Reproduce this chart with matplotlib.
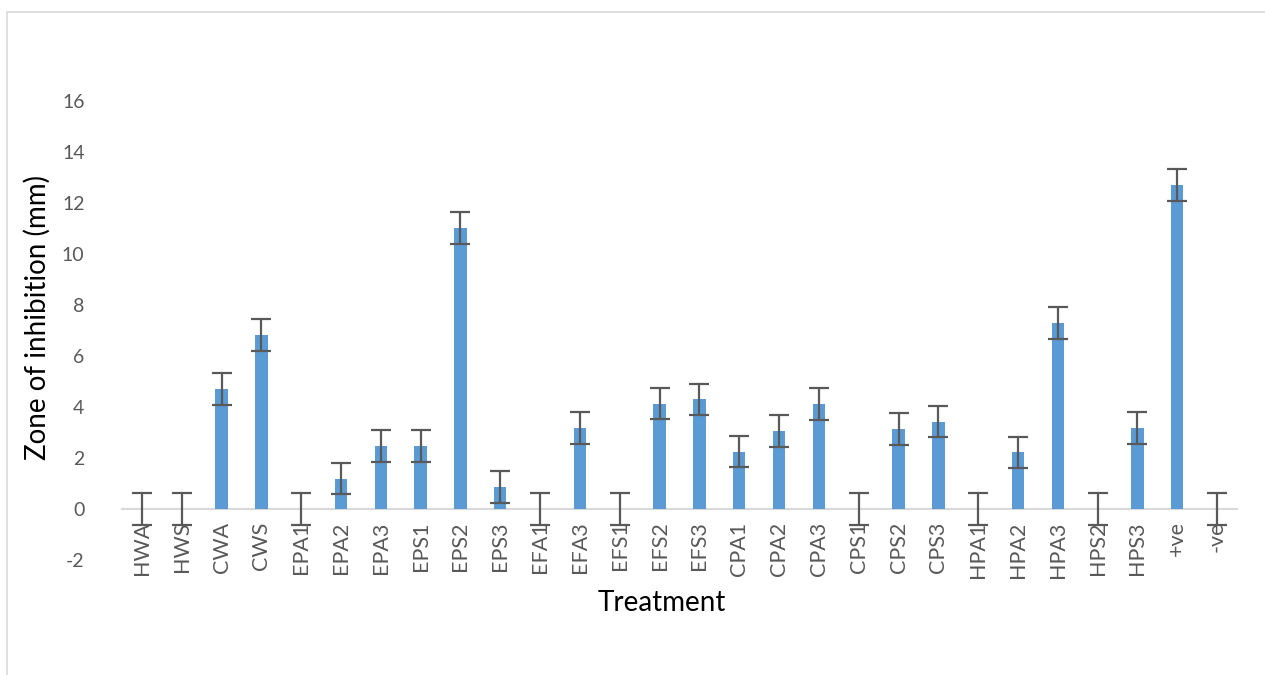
import matplotlib
matplotlib.use("Agg")
import matplotlib.pyplot as plt
from matplotlib.patches import Rectangle

categories = ["HWA", "HWS", "CWA", "CWS", "EPA1", "EPA2", "EPA3", "EPS1", "EPS2", "EPS3",
              "EFA1", "EFA3", "EFS1", "EFS2", "EFS3", "CPA1", "CPA2", "CPA3", "CPS1", "CPS2",
              "CPS3", "HPA1", "HPA2", "HPA3", "HPS2", "HPS3", "+ve", "-ve"]
values = [0, 0, 4.71, 6.83, 0, 1.19, 2.47, 2.47, 11.03, 0.87,
          0, 3.17, 0, 4.13, 4.30, 2.25, 3.06, 4.11, 0, 3.13,
          3.43, 0, 2.22, 7.29, 0, 3.17, 12.71, 0]
errors = [0.62] * len(categories)
yticks = [-2, 0, 2, 4, 6, 8, 10, 12, 14, 16]

plt.rcParams['font.family'] = ['Lato', 'DejaVu Sans']

W, H = 1265, 675
fig = plt.figure(figsize=(W / 100, H / 100), dpi=100)
# chart border
fig.patches.append(Rectangle((7 / W, -0.1), 1.2, (H - 12) / H + 0.1, transform=fig.transFigure,
                             fill=False, edgecolor="#D9D9D9", linewidth=1.2))

left, right = 122 / W, 1237 / W
bottom, top = (H - 560) / H, (H - 50) / H
ax = fig.add_axes([left, bottom, right - left, top - bottom])

x = list(range(len(categories)))
ax.bar(x, values, width=0.31, color="#5B9BD5", zorder=2)
ax.errorbar(x, values, yerr=errors, fmt="none", ecolor="#595959", elinewidth=1.6,
            capsize=7, capthick=1.6, zorder=3)

ax.set_xlim(-0.5, len(categories) - 0.5)
ax.set_ylim(-2, 18)
ax.set_yticks(yticks)
ax.set_yticklabels([str(t) for t in yticks])

for s in ["top", "right", "left"]:
    ax.spines[s].set_visible(False)
ax.spines["bottom"].set_position(("data", 0))
ax.spines["bottom"].set_color("#D9D9D9")
ax.spines["bottom"].set_linewidth(1.5)
ax.spines["bottom"].set_zorder(1)

ax.set_xticks(x)
ax.set_xticklabels(categories, rotation=90, fontsize=15.5, color="#595959")
ax.tick_params(axis="x", length=0, pad=9)
ax.tick_params(axis="y", length=0, pad=27, labelsize=14, labelcolor="#595959")

fig.text(37 / W, 1 - 318 / H, "Zone of inhibition (mm)", rotation=90, ha="center", va="center",
         fontsize=20, color="black")
fig.text(662 / W, 1 - 603 / H, "Treatment", ha="center", va="center", fontsize=20, color="black")

fig.savefig("out.png", dpi=100)
